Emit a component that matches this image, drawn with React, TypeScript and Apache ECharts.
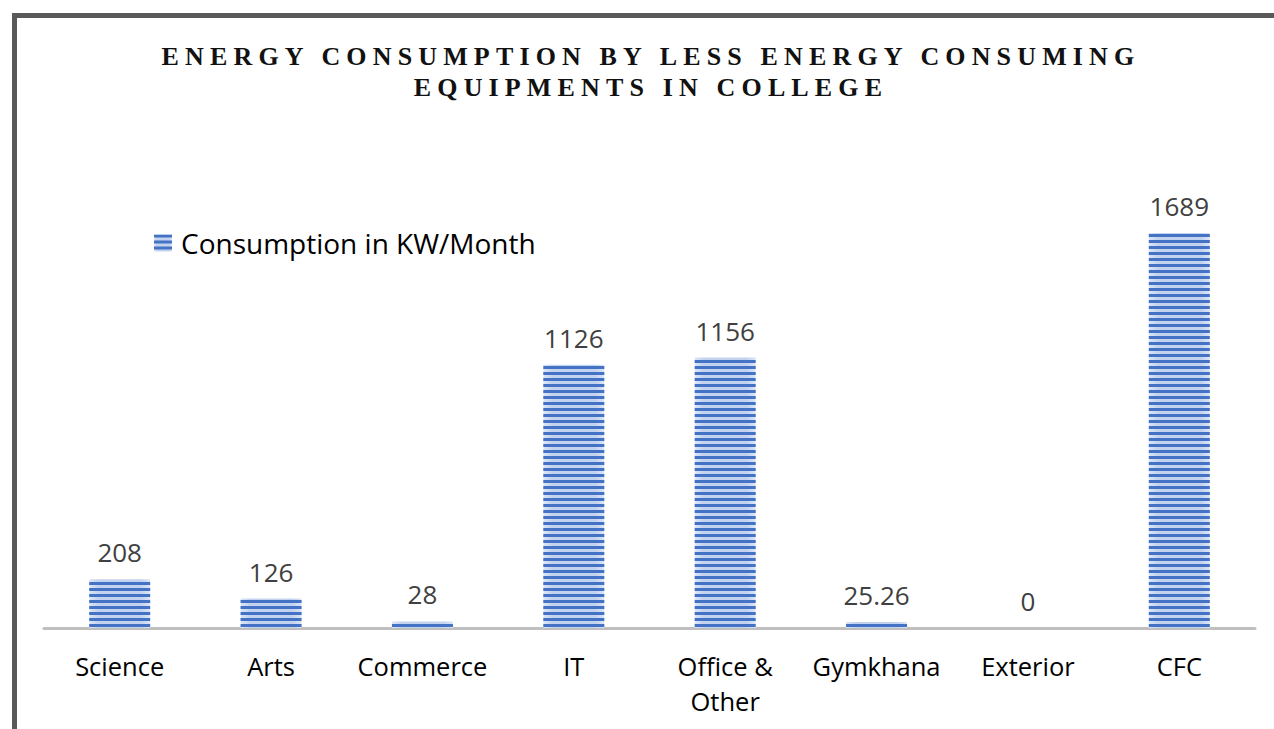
import React, { useEffect, useRef } from "react";
import * as echarts from "echarts";

const categories = ["Science", "Arts", "Commerce", "IT", "Office &\nOther", "Gymkhana", "Exterior", "CFC"];
const consumption = [208, 126, 28, 1126, 1156, 25.26, 0, 1689];
const seriesName = "Consumption in KW/Month";
const titleLines = ["ENERGY CONSUMPTION BY LESS ENERGY CONSUMING", "EQUIPMENTS IN COLLEGE"];

const SANS = "'Open Sans', 'Noto Sans', sans-serif";
const SERIF = "'Liberation Serif', 'DejaVu Serif', serif";

export default function App() {
  const ref = useRef<HTMLDivElement>(null);
  useEffect(() => {
    if (!ref.current) return;
    const chart = echarts.init(ref.current, undefined, { renderer: "svg" });
    const barColor = new echarts.graphic.LinearGradient(0, 0, 1, 0, [
      { offset: 0, color: "#dde6f6" },
      { offset: 0.15, color: "#c3d2ee" },
      { offset: 0.85, color: "#c3d2ee" },
      { offset: 1, color: "#dde6f6" },
    ]);
    const decal = {
      symbol: "rect",
      symbolSize: 1,
      color: "#4472c4",
      dashArrayX: [1, 0],
      dashArrayY: [3, 2.6],
      rotation: 0,
    };
    chart.setOption({
      animation: false,
      backgroundColor: "#ffffff",
      grid: { left: 44, right: 19, top: 207, bottom: 101, containLabel: false },
      legend: {
        left: 154,
        top: 226,
        padding: 0,
        itemWidth: 18,
        itemHeight: 17,
        icon: "rect",
        textStyle: { fontFamily: SANS, fontSize: 28, color: "#000", padding: [0, 0, 0, 4], lineHeight: 34 },
        data: [seriesName],
      },
      xAxis: {
        type: "category",
        data: categories,
        axisLine: { show: true, lineStyle: { color: "#bfbfbf", width: 3 } },
        axisTick: { show: false },
        axisLabel: {
          interval: 0,
          fontFamily: SANS,
          fontSize: 25.5,
          color: "#000",
          lineHeight: 35,
          margin: 20,
        },
      },
      yAxis: {
        type: "value",
        min: 0,
        max: 1800,
        show: false,
        splitLine: { show: false },
      },
      graphic: [
        {
          type: "polyline",
          shape: { points: [[14.5, 729], [14.5, 15.5], [1274, 15.5]] },
          style: { stroke: "#595959", lineWidth: 5, fill: null },
          silent: true,
        },
        {
          type: "text",
          x: 651,
          y: 56,
          style: {
            text: titleLines[0],
            textAlign: "center",
            textVerticalAlign: "middle",
            font: `bold 26px ${SERIF}`,
            fill: "#111",
          },
        },
        {
          type: "text",
          x: 651,
          y: 87,
          style: {
            text: titleLines[1],
            textAlign: "center",
            textVerticalAlign: "middle",
            font: `bold 26px ${SERIF}`,
            fill: "#111",
          },
        },
      ],
      series: [
        {
          name: seriesName,
          type: "bar",
          data: consumption,
          barWidth: 61,
          itemStyle: { color: barColor, decal },
          label: {
            show: true,
            position: "top",
            distance: 14,
            fontFamily: SANS,
            fontSize: 26,
            color: "#404040",
          },
        },
      ],
    });
    const texts = ref.current.querySelectorAll("text");
    texts.forEach((t) => {
      const c = t.textContent || "";
      if (c === titleLines[0] || c === titleLines[1]) {
        t.setAttribute("letter-spacing", "6.15");
      }
    });
    return () => chart.dispose();
  }, []);
  return <div ref={ref} style={{ position: "fixed", left: 0, top: 0, width: 1274, height: 729 }} />;
}
